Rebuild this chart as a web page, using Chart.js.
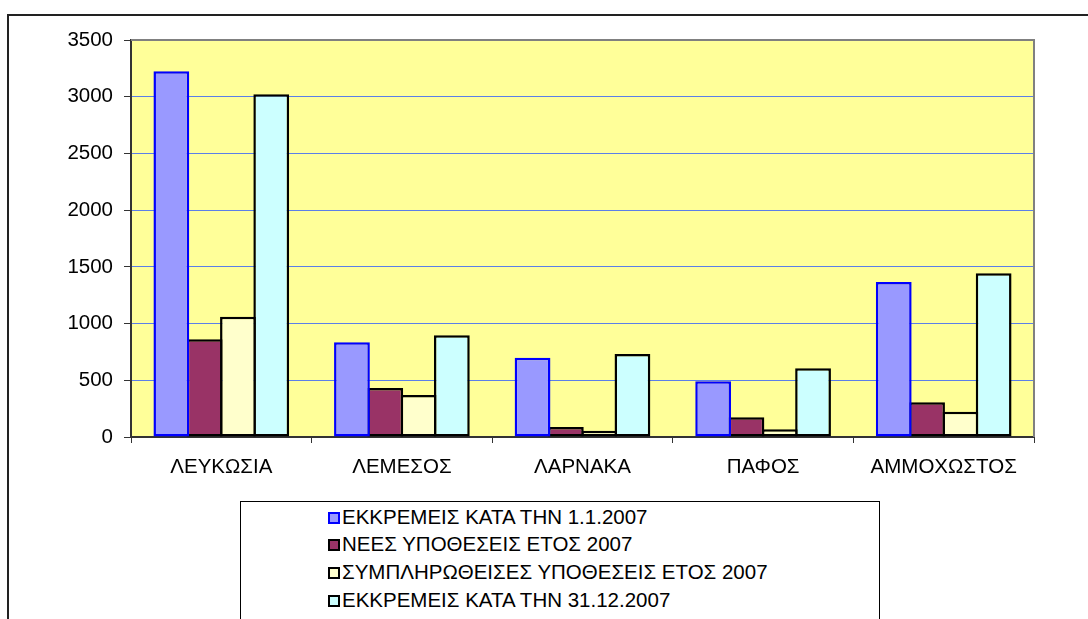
<!DOCTYPE html>
<html>
<head>
<meta charset="utf-8">
<script src="https://cdn.jsdelivr.net/npm/chart.js@4"></script>
<style>
  html, body { margin: 0; padding: 0; background: #fff; }
  #wrap { position: relative; width: 1088px; height: 619px; overflow: hidden; }
  #legend {
    position: absolute; left: 240px; top: 501px; width: 638px; height: 140px;
    border: 1.5px solid #000; background: #fff;
    font-family: Arial, "Liberation Sans", sans-serif; font-size: 20.5px; color: #000;
  }
  .item { position: absolute; left: 87px; height: 24px; line-height: 24px; white-space: nowrap; }
  .box { display: inline-block; width: 8px; height: 8px; border: 2px solid #000; margin-right: 2px; vertical-align: 0px; }
</style>
</head>
<body>
<div id="wrap">
  <canvas id="chart" width="1088" height="619"></canvas>
  <div id="legend"></div>
</div>
<script>
const categories = ['ΛΕΥΚΩΣΙΑ', 'ΛΕΜΕΣΟΣ', 'ΛΑΡΝΑΚΑ', 'ΠΑΦΟΣ', 'ΑΜΜΟΧΩΣΤΟΣ'];
const seriesNames = [
  'ΕΚΚΡΕΜΕΙΣ ΚΑΤΑ ΤΗΝ 1.1.2007',
  'ΝΕΕΣ ΥΠΟΘΕΣΕΙΣ ΕΤΟΣ 2007',
  'ΣΥΜΠΛΗΡΩΘΕΙΣΕΣ ΥΠΟΘΕΣΕΙΣ ΕΤΟΣ 2007',
  'ΕΚΚΡΕΜΕΙΣ ΚΑΤΑ ΤΗΝ 31.12.2007'
];
const pendingStart = [3225, 835, 698, 491, 1367];
const newCases = [861, 432, 88, 174, 306];
const completed = [1061, 370, 55, 68, 223];
const pendingEnd = [3022, 897, 732, 606, 1444];
const yTicks = [0, 500, 1000, 1500, 2000, 2500, 3000, 3500];

const fills = ['#9999FF', '#993366', '#FFFFCC', '#CCFFFF'];
const borders = ['#0000FF', '#000000', '#000000', '#000000'];
const values = [pendingStart, newCases, completed, pendingEnd];

// background, outer frame and plot area
const framePlugin = {
  id: 'frame',
  beforeDraw(chart) {
    const ctx = chart.ctx;
    const a = chart.chartArea;
    ctx.save();
    ctx.fillStyle = '#fff';
    ctx.fillRect(0, 0, chart.width, chart.height);
    ctx.strokeStyle = '#222';
    ctx.lineWidth = 2;
    ctx.beginPath();
    ctx.moveTo(8, chart.height + 2);
    ctx.lineTo(8, 15);
    ctx.lineTo(chart.width + 2, 15);
    ctx.stroke();
    ctx.fillStyle = '#FFFF99';
    ctx.fillRect(a.left, a.top, a.right - a.left, a.bottom - a.top);
    ctx.restore();
  },
  afterDatasetsDraw(chart) {
    const ctx = chart.ctx;
    const a = chart.chartArea;
    ctx.save();
    ctx.strokeStyle = '#808080';
    ctx.lineWidth = 2;
    ctx.beginPath();
    ctx.moveTo(a.left, a.top);
    ctx.lineTo(a.right, a.top);
    ctx.lineTo(a.right, a.bottom);
    ctx.stroke();
    ctx.restore();
  }
};

const axisFont = { family: 'Arial, "Liberation Sans", sans-serif', size: 20.5 };

new Chart(document.getElementById('chart'), {
  type: 'bar',
  data: {
    labels: categories,
    datasets: values.map((v, i) => ({
      label: seriesNames[i],
      data: v,
      backgroundColor: fills[i],
      borderColor: borders[i],
      borderWidth: 2.5,
      borderSkipped: false,
      categoryPercentage: 0.7375,
      barPercentage: 1.075
    }))
  },
  options: {
    responsive: false,
    animation: false,
    layout: { padding: { top: 40, right: 54, left: 0, bottom: 0 } },
    plugins: { legend: { display: false }, tooltip: { enabled: false } },
    scales: {
      x: {
        grid: { offset: true, drawOnChartArea: false, tickLength: 6, color: '#333', lineWidth: 1 },
        border: { color: '#333', width: 2 },
        ticks: { color: '#000', font: axisFont, padding: 12, maxRotation: 0 },
        afterFit(scale) { scale.height = 182; }
      },
      y: {
        min: 0,
        max: 3500,
        afterBuildTicks(scale) { scale.ticks = yTicks.map(v => ({ value: v })); },
        grid: { color: '#5b7fe8', lineWidth: 1, tickLength: 7, tickColor: '#333' },
        border: { color: '#333', width: 2 },
        ticks: { color: '#000', font: axisFont, padding: 11, callback: v => String(v) },
        afterFit(scale) { scale.width = 131; }
      }
    }
  },
  plugins: [framePlugin]
});

// legend box
const legend = document.getElementById('legend');
seriesNames.forEach((name, i) => {
  const row = document.createElement('div');
  row.className = 'item';
  row.style.top = (2.5 + i * 27.7) + 'px';
  row.innerHTML = '<span class="box" style="background:' + fills[i] + ';border-color:' + borders[i] + '"></span>' + name;
  legend.appendChild(row);
});
</script>
</body>
</html>
